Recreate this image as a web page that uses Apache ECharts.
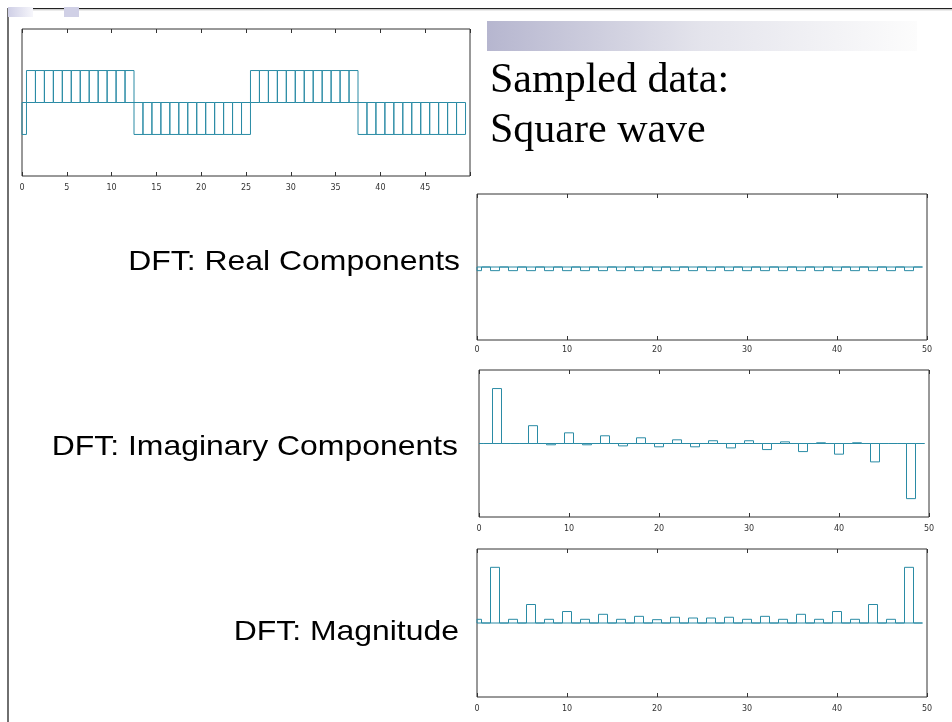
<!DOCTYPE html>
<html>
<head>
<meta charset="utf-8">
<script src="https://cdn.jsdelivr.net/npm/echarts@6/dist/echarts.min.js"></script>
<style>
html,body{margin:0;padding:0;background:#fff;}
#chart{width:952px;height:722px;}
</style>
</head>
<body>
<div id="chart"></div>
<script>
// ---- data ----
const sampleIndex = [0,1,2,3,4,5,6,7,8,9,10,11,12,13,14,15,16,17,18,19,20,21,22,23,24,25,26,27,28,29,30,31,32,33,34,35,36,37,38,39,40,41,42,43,44,45,46,47,48,49];
const squareWave = [-1, 1,1,1,1,1,1,1,1,1,1,1,1, -1,-1,-1,-1,-1,-1,-1,-1,-1,-1,-1,-1,-1, 1,1,1,1,1,1,1,1,1,1,1,1, -1,-1,-1,-1,-1,-1,-1,-1,-1,-1,-1,-1];
const freqIndex = sampleIndex;
const dftReal = [-2,0,-2,0,-2,0,-2,0,-2,0,-2,0,-2,0,-2,0,-2,0,-2,0,-2,0,-2,0,-2,0,-2,0,-2,0,-2,0,-2,0,-2,0,-2,0,-2,0,-2,0,-2,0,-2,0,-2,0,-2,0];
const dftImag = [0,0,29.9,0,0,0,9.7,0,-0.7,0,5.8,0,-0.7,0,4.2,0,-1.3,0,3.1,0,-1.8,0,2.0,0,-1.8,0,1.5,0,-2.4,0,1.5,0,-3.3,0,0.9,0,-4.4,0,0.4,0,-5.8,0,0.4,0,-10.0,0,0,0,-30.0,0];
const dftMag = [2.0,0,30.1,0,2.0,0,10.0,0,2.0,0,6.2,0,2.0,0,4.7,0,2.0,0,3.6,0,1.8,0,3.1,0,2.7,0,2.7,0,3.1,0,2.0,0,3.6,0,2.0,0,4.7,0,2.0,0,6.2,0,2.0,0,10.0,0,2.0,0,30.1,0];
const sampleTicks = ['0','5','10','15','20','25','30','35','40','45'];
const freqTicks = ['0','10','20','30','40','50'];

// ---- style ----
const LINE = '#2a8ba5';
const FRAME = '#333';
const X_MIN = 0, X_MAX = 50;

function boxRender(params, api) {
  const k = api.value(0), v = api.value(1);
  const x0 = Math.max(k - 0.5, X_MIN), x1 = Math.min(k + 0.5, X_MAX);
  const p0 = api.coord([x0, 0]), p1 = api.coord([x0, v]);
  const p2 = api.coord([x1, v]), p3 = api.coord([x1, 0]);
  return {
    type: 'polyline',
    shape: { points: [p0, p1, p2, p3, p0] },
    style: { stroke: LINE, fill: null, lineWidth: 1 }
  };
}

const grids = [
  { left: 22, top: 29, width: 448, height: 147 },
  { left: 477, top: 194, width: 450, height: 146 },
  { left: 479, top: 370, width: 450, height: 147 },
  { left: 477, top: 549, width: 450, height: 148 }
];
const intervals = [5, 10, 10, 10];
const tickLabels = [sampleTicks, freqTicks, freqTicks, freqTicks];
const yRanges = [2.3, 40, 40, 40];
const labelMargins = [8, 6, 8, 8];
const seriesData = [
  sampleIndex.map((k, i) => [k, squareWave[i]]),
  freqIndex.map((k, i) => [k, dftReal[i]]),
  freqIndex.map((k, i) => [k, dftImag[i]]),
  freqIndex.map((k, i) => [k, dftMag[i]])
];

const xAxes = [], yAxes = [], series = [];
grids.forEach((g, i) => {
  const labels = tickLabels[i];
  xAxes.push({
    type: 'value', gridIndex: i, position: 'bottom',
    min: X_MIN, max: X_MAX, interval: intervals[i],
    axisLine: { show: false, onZero: false },
    axisTick: { show: true, inside: true, length: 4, lineStyle: { color: FRAME, width: 1 } },
    splitLine: { show: false },
    axisLabel: {
      show: true, fontSize: 8, color: '#333', margin: labelMargins[i],
      fontFamily: 'DejaVu Sans',
      formatter: v => (labels.indexOf(String(v)) >= 0 ? String(v) : '')
    }
  });
  xAxes.push({
    type: 'value', gridIndex: i, position: 'top',
    min: X_MIN, max: X_MAX, interval: intervals[i],
    axisLine: { show: false, onZero: false },
    axisTick: { show: true, inside: true, length: 4, lineStyle: { color: FRAME, width: 1 } },
    splitLine: { show: false },
    axisLabel: { show: false }
  });
  yAxes.push({
    type: 'value', gridIndex: i, min: -yRanges[i], max: yRanges[i], show: false,
    axisLine: { show: false, onZero: false }, axisTick: { show: false },
    splitLine: { show: false }
  });
  series.push({
    type: 'custom', xAxisIndex: i * 2, yAxisIndex: i,
    renderItem: boxRender, data: seriesData[i], encode: { x: 0, y: 1 },
    silent: true, animation: false
  });
});

const sansFont = '28px "Liberation Sans", Arial, sans-serif';
const serifFont = '42px "Liberation Serif", "Times New Roman", serif';

const graphic = [
  { type: 'line', shape: { x1: 8, y1: 8.5, x2: 952, y2: 8.5 }, style: { stroke: '#222', lineWidth: 1.2 } },
  { type: 'line', shape: { x1: 8, y1: 9.8, x2: 952, y2: 9.8 }, style: { stroke: '#bbb', lineWidth: 1 } },
  { type: 'line', shape: { x1: 8, y1: 8, x2: 8, y2: 722 }, style: { stroke: '#333', lineWidth: 1.4 } },
  { type: 'rect', shape: { x: 8, y: 7, width: 25, height: 10 },
    style: { fill: new echarts.graphic.LinearGradient(0, 0, 1, 0, [
      { offset: 0, color: '#cfcfe6' }, { offset: 1, color: '#f6f6fb' }]) } },
  { type: 'rect', shape: { x: 64, y: 7, width: 15, height: 10 }, style: { fill: '#d0d0e6' } },
  { type: 'rect', shape: { x: 487, y: 21, width: 430, height: 30 },
    style: { fill: new echarts.graphic.LinearGradient(0, 0, 1, 0, [
      { offset: 0, color: '#b6b6cf' }, { offset: 0.5, color: '#e4e4ec' }, { offset: 1, color: '#fcfcfc' }]) } },
  { type: 'text', x: 490, y: 81, style: { text: 'Sampled data:', font: serifFont, fill: '#000',
      align: 'left', textAlign: 'left', verticalAlign: 'middle', textVerticalAlign: 'middle' } },
  { type: 'text', x: 490, y: 131, style: { text: 'Square wave', font: serifFont, fill: '#000',
      align: 'left', textAlign: 'left', verticalAlign: 'middle', textVerticalAlign: 'middle' } },
  { type: 'text', x: 460, y: 262, scaleX: 1.14, originX: 0, originY: 0,
    style: { text: 'DFT: Real Components', font: sansFont, fill: '#000',
      align: 'right', textAlign: 'right', verticalAlign: 'middle', textVerticalAlign: 'middle' } },
  { type: 'text', x: 458, y: 447, scaleX: 1.14, originX: 0, originY: 0,
    style: { text: 'DFT: Imaginary Components', font: sansFont, fill: '#000',
      align: 'right', textAlign: 'right', verticalAlign: 'middle', textVerticalAlign: 'middle' } },
  { type: 'text', x: 459, y: 632, scaleX: 1.14, originX: 0, originY: 0,
    style: { text: 'DFT: Magnitude', font: sansFont, fill: '#000',
      align: 'right', textAlign: 'right', verticalAlign: 'middle', textVerticalAlign: 'middle' } }
];

const chart = echarts.init(document.getElementById('chart'), null, { renderer: 'canvas' });
chart.setOption({
  animation: false,
  backgroundColor: '#fff',
  grid: grids.map(g => Object.assign({ show: true, borderColor: FRAME, borderWidth: 1, backgroundColor: 'transparent', containLabel: false }, g)),
  xAxis: xAxes,
  yAxis: yAxes,
  series: series,
  graphic: graphic
});
</script>
</body>
</html>
